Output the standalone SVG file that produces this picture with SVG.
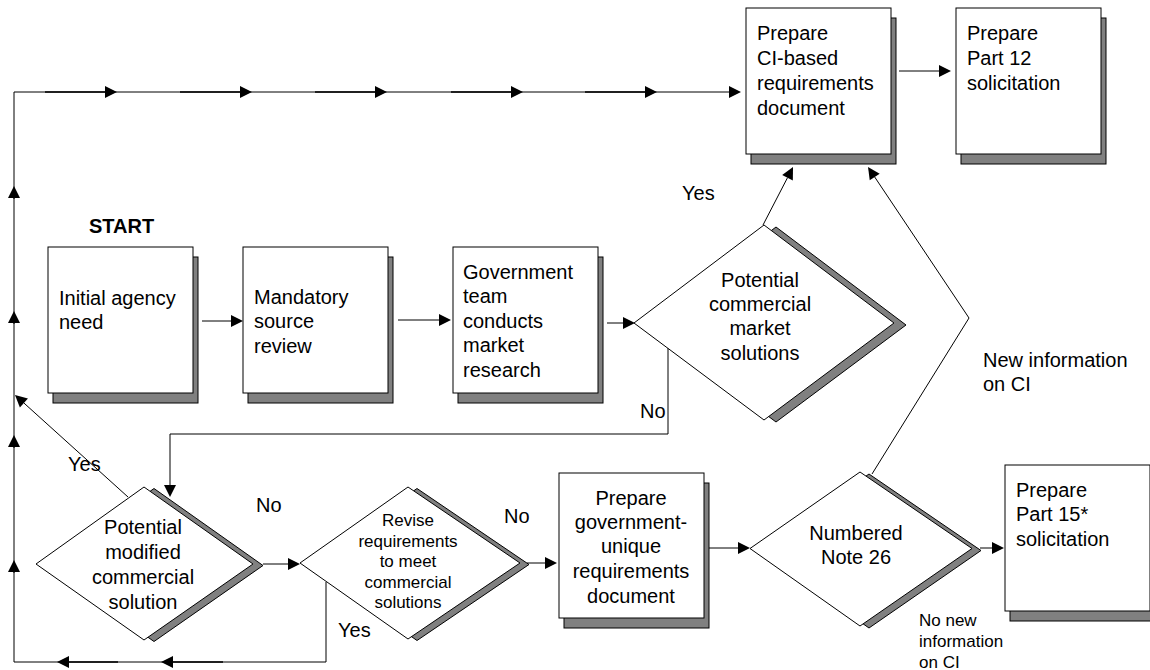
<svg xmlns="http://www.w3.org/2000/svg" width="1150" height="670" viewBox="0 0 1150 670">
<style>
.box{fill:#fff;stroke:#000;stroke-width:1}
.sh{fill:#808080;stroke:#000;stroke-width:1}
.t{font-family:"Liberation Sans",Arial,sans-serif;font-size:20px;fill:#000}
.s{font-family:"Liberation Sans",Arial,sans-serif;font-size:17px;fill:#000}
.b{font-weight:bold}
.c{text-anchor:middle}
.ln{fill:none;stroke:#000;stroke-width:1}
.th{fill:none;stroke:#000;stroke-width:1.6}
.a{marker-end:url(#ah)}
</style>
<defs>
<marker id="ah" markerUnits="userSpaceOnUse" markerWidth="12" markerHeight="12" refX="0" refY="6" orient="auto" overflow="visible">
<path d="M0,0 L12,6 L0,12 z" fill="#000"/>
</marker>
</defs>
<rect width="1150" height="670" fill="#fff"/>

<g id="connectors">
<path class="ln a" d="M14,662 L14,92 L729,92"/>
<path class="th a" d="M45,92 L105,92"/>
<path class="th a" d="M180,92 L240,92"/>
<path class="th a" d="M315,92 L375,92"/>
<path class="th a" d="M451,92 L511,92"/>
<path class="th a" d="M585,92 L645,92"/>
<path class="ln a" d="M14,199 L14,198"/>
<path class="ln a" d="M14,324 L14,323"/>
<path class="ln a" d="M14,448 L14,447"/>
<path class="ln a" d="M14,573 L14,572"/>
<path class="ln" d="M326,582 L326,662 L14,662"/>
<path class="th a" d="M223,662 L173,662"/>
<path class="th a" d="M118,662 L69,662"/>
<path class="ln a" d="M202,321 L231,321"/>
<path class="ln a" d="M398,320 L439,320"/>
<path class="ln a" d="M607,323 L623,323"/>
<path class="ln a" d="M763,225 L787.5,177.7"/>
<path class="ln a" d="M872,474 L969,318 L874.7,177"/>
<path class="ln a" d="M668,348 L668,434 L170,434 L170,485"/>
<path class="ln a" d="M128,497 L23.9,403"/>
<path class="ln a" d="M263,564 L288,564"/>
<path class="ln a" d="M527,563 L545,563"/>
<path class="ln a" d="M709,548 L738,548"/>
<path class="ln a" d="M980,548 L992,548"/>
<path class="ln a" d="M899,71 L939,71"/>
<text class="t" x="682" y="200">Yes</text>
<text class="t" x="983" y="367">New information</text>
<text class="t" x="983" y="391">on CI</text>
<text class="t" x="640" y="418">No</text>
<text class="t" x="68" y="471">Yes</text>
<text class="t" x="256" y="512">No</text>
<text class="t" x="504" y="523">No</text>
<text class="t" x="338" y="637">Yes</text>
<text class="s" x="919" y="626">No new</text>
<text class="s" x="919" y="647">information</text>
<text class="s" x="919" y="668">on CI</text>
</g>

<g id="start-label">
<text class="t b" x="89" y="233">START</text>
</g>

<g id="n-ci-doc">
<rect class="sh" x="751" y="18" width="145" height="146"/>
<rect class="box" x="746" y="8" width="145" height="146"/>
<text class="t" x="757" y="40">Prepare</text>
<text class="t" x="757" y="65">CI-based</text>
<text class="t" x="757" y="90">requirements</text>
<text class="t" x="757" y="115">document</text>
</g>

<g id="n-part12">
<rect class="sh" x="961" y="18" width="145" height="146"/>
<rect class="box" x="956" y="8" width="145" height="146"/>
<text class="t" x="967" y="40">Prepare</text>
<text class="t" x="967" y="65">Part 12</text>
<text class="t" x="967" y="90">solicitation</text>
</g>

<g id="n-initial">
<rect class="sh" x="53" y="257" width="145" height="146"/>
<rect class="box" x="48" y="247" width="145" height="146"/>
<text class="t" x="59" y="305">Initial agency</text>
<text class="t" x="59" y="329">need</text>
</g>

<g id="n-mandatory">
<rect class="sh" x="248" y="257" width="145" height="146"/>
<rect class="box" x="243" y="247" width="145" height="146"/>
<text class="t" x="254" y="304">Mandatory</text>
<text class="t" x="254" y="328">source</text>
<text class="t" x="254" y="353">review</text>
</g>

<g id="n-government">
<rect class="sh" x="458" y="257" width="145" height="146"/>
<rect class="box" x="453" y="247" width="145" height="146"/>
<text class="t" x="463" y="279">Government</text>
<text class="t" x="463" y="303">team</text>
<text class="t" x="463" y="328">conducts</text>
<text class="t" x="463" y="352">market</text>
<text class="t" x="463" y="377">research</text>
</g>

<g id="d-commercial">
<polygon class="sh" points="634,323 764,225 894,323 764,420" transform="translate(12,2)"/>
<polygon class="box" points="634,323 764,225 894,323 764,420"/>
<text class="t c" x="760" y="287">Potential</text>
<text class="t c" x="760" y="311">commercial</text>
<text class="t c" x="760" y="335">market</text>
<text class="t c" x="760" y="360">solutions</text>
</g>

<g id="d-modified">
<polygon class="sh" points="36,564 144,487 253,564 144,640" transform="translate(10,1.5)"/>
<polygon class="box" points="36,564 144,487 253,564 144,640"/>
<text class="t c" x="143" y="534">Potential</text>
<text class="t c" x="143" y="559">modified</text>
<text class="t c" x="143" y="584">commercial</text>
<text class="t c" x="143" y="609">solution</text>
</g>

<g id="d-revise">
<polygon class="sh" points="300,563 408,487 520,563 408,639" transform="translate(9,1.5)"/>
<polygon class="box" points="300,563 408,487 520,563 408,639"/>
<text class="s c" x="408" y="526">Revise</text>
<text class="s c" x="408" y="547">requirements</text>
<text class="s c" x="408" y="567">to meet</text>
<text class="s c" x="408" y="588">commercial</text>
<text class="s c" x="408" y="608">solutions</text>
</g>

<g id="n-gov-unique">
<rect class="sh" x="564" y="483" width="145" height="145"/>
<rect class="box" x="559" y="473" width="145" height="145"/>
<text class="t c" x="631" y="505">Prepare</text>
<text class="t c" x="631" y="529">government-</text>
<text class="t c" x="631" y="553">unique</text>
<text class="t c" x="631" y="578">requirements</text>
<text class="t c" x="631" y="603">document</text>
</g>

<g id="d-note26">
<polygon class="sh" points="750,548.5 860,472 972,548.5 860,626" transform="translate(9,2)"/>
<polygon class="box" points="750,548.5 860,472 972,548.5 860,626"/>
<text class="t c" x="856" y="540">Numbered</text>
<text class="t c" x="856" y="564">Note 26</text>
</g>

<g id="n-part15">
<rect class="sh" x="1010" y="475" width="145" height="146"/>
<rect class="box" x="1005" y="465" width="145" height="146"/>
<text class="t" x="1016" y="497">Prepare</text>
<text class="t" x="1016" y="521">Part 15*</text>
<text class="t" x="1016" y="546">solicitation</text>
</g>
</svg>
